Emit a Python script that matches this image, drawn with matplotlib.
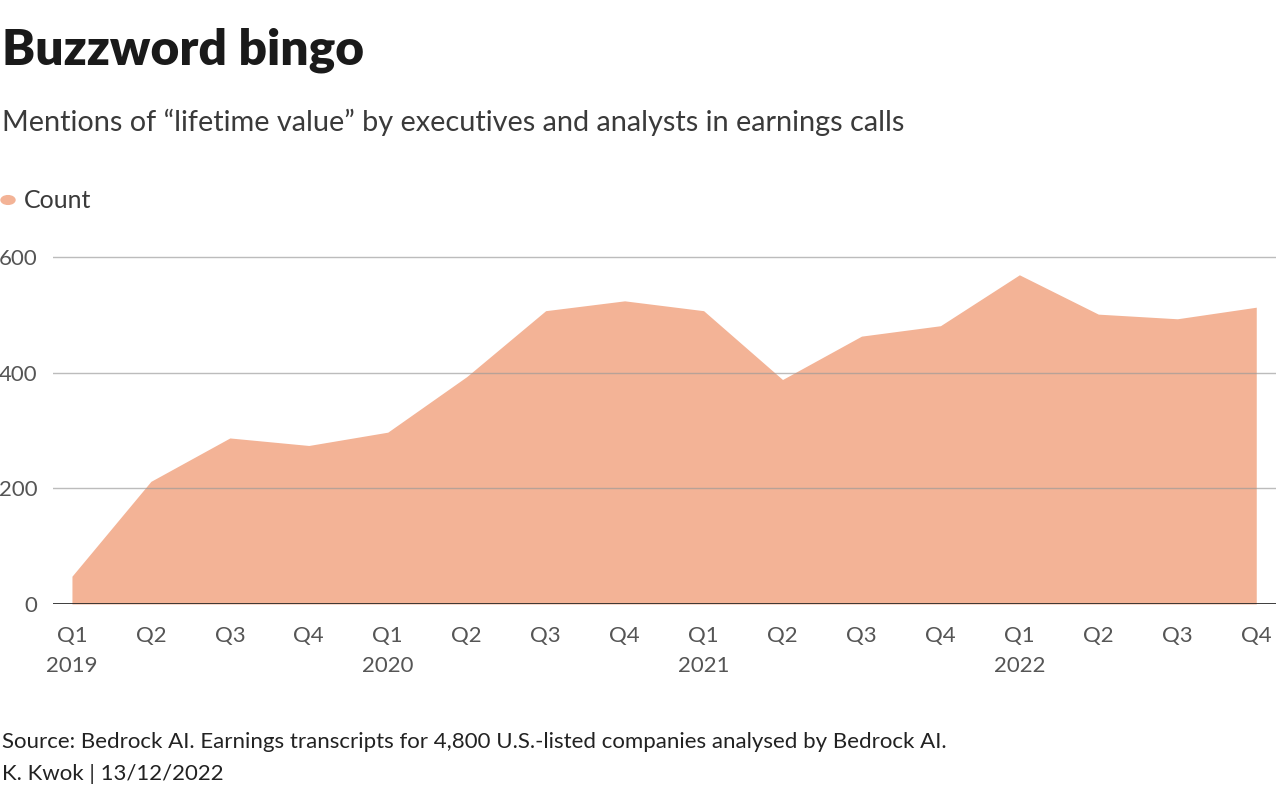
import matplotlib.pyplot as plt
import numpy as np

# Quarterly mentions of "lifetime value"
quarters = ['Q1', 'Q2', 'Q3', 'Q4'] * 4
years = ['2019', '', '', '', '2020', '', '', '', '2021', '', '', '', '2022', '', '', '']
counts = [48, 212, 287, 274, 297, 393, 507, 524, 507, 388, 463, 481, 569, 501, 493, 513]
y_ticks = [0, 200, 400, 600]

plt.rcParams['font.family'] = ['Lato', 'DejaVu Sans']

fig = plt.figure(figsize=(12.8, 7.95), dpi=100)
ax = fig.add_axes([53 / 1280, 1 - 604 / 795, (1276 - 53) / 1280, (604 - 245.3) / 795])

x = np.arange(len(counts))
ax.fill_between(x, counts, 0, color='#F3B396', lw=0, zorder=1)

ax.set_xlim(-0.24, len(counts) - 1 + 0.25)
ax.set_ylim(0, 620)

# gridlines drawn over the area
for t in y_ticks[1:]:
    ax.axhline(t, color='#999999', lw=1, alpha=0.65, zorder=2)
ax.axhline(0, color='#2b2b2b', lw=2, zorder=3)

for s in ax.spines.values():
    s.set_visible(False)

ax.set_yticks(y_ticks)
ax.set_yticklabels([str(t) for t in y_ticks], fontsize=16, color='#555555')
ax.tick_params(axis='y', length=0, pad=11)
ax.set_xticks(x)
ax.set_xticklabels([q + '\n' + y if y else q for q, y in zip(quarters, years)],
                   fontsize=16, color='#555555', linespacing=1.62)
ax.tick_params(axis='x', length=0, pad=16)
for lab in ax.get_xticklabels():
    lab.set_verticalalignment('top')

fig.text(2 / 1280, 1 - 50 / 795, 'Buzzword bingo', fontsize=35.7, fontweight='heavy',
         color='#1a1a1a', va='center', ha='left')
fig.text(2 / 1280, 1 - 122 / 795,
         'Mentions of \u201clifetime value\u201d by executives and analysts in earnings calls',
         fontsize=20.8, color='#3a3a3a', va='center', ha='left')

# legend
fig.patches.append(plt.Circle((8 / 1280, 1 - 200 / 795), 7 / 1280, color='#F3B396',
                              transform=fig.transFigure, figure=fig))
fig.text(24 / 1280, 1 - 201 / 795, 'Count', fontsize=18, color='#3a3a3a',
         va='center', ha='left')

fig.text(2 / 1280, 1 - 742 / 795,
         'Source: Bedrock AI. Earnings transcripts for 4,800 U.S.-listed companies analysed by Bedrock AI.',
         fontsize=16, color='#222222', va='center', ha='left')
fig.text(2 / 1280, 1 - 774 / 795, 'K. Kwok | 13/12/2022', fontsize=16,
         color='#222222', va='center', ha='left')

fig.savefig('out.png', dpi=100, facecolor='white')
